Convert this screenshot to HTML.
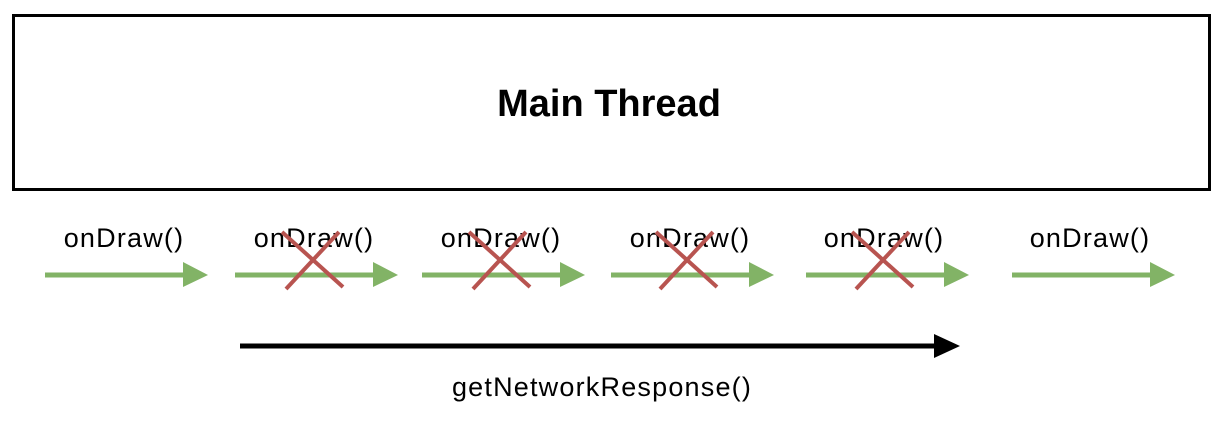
<!DOCTYPE html>
<html><head><style>body{margin:0;background:#fff}</style></head><body>
<svg width="1223" height="421" xmlns="http://www.w3.org/2000/svg" style="display:block">
<rect x="13.5" y="15.5" width="1196" height="174" fill="#fff" stroke="#000" stroke-width="3"/>
<text x="609" y="116" font-family="Liberation Sans, sans-serif" font-weight="bold" font-size="38" text-anchor="middle">Main Thread</text>
<g font-family="Liberation Sans, sans-serif" font-size="27" letter-spacing="1.2" text-anchor="middle">
<text x="124" y="247">onDraw()</text>
<text x="314" y="247">onDraw()</text>
<text x="501" y="247">onDraw()</text>
<text x="690" y="247">onDraw()</text>
<text x="884" y="247">onDraw()</text>
<text x="1090" y="247">onDraw()</text>
<text x="602" y="396">getNetworkResponse()</text>
</g>
<g stroke="#82b366" stroke-width="5" fill="#82b366">
<line x1="45" y1="275" x2="190" y2="275"/><polygon points="183,262 208,275 183,287" stroke="none"/>
<line x1="235" y1="275" x2="380" y2="275"/><polygon points="373,262 398,275 373,287" stroke="none"/>
<line x1="422" y1="275" x2="567" y2="275"/><polygon points="560,262 585,275 560,287" stroke="none"/>
<line x1="611" y1="275" x2="756" y2="275"/><polygon points="749,262 774,275 749,287" stroke="none"/>
<line x1="806" y1="275" x2="951" y2="275"/><polygon points="944,262 969,275 944,287" stroke="none"/>
<line x1="1012" y1="275" x2="1157" y2="275"/><polygon points="1150,262 1175,275 1150,287" stroke="none"/>
</g>
<g stroke="#b85450" stroke-width="4">
<line x1="282" y1="232" x2="343" y2="287"/><line x1="339" y1="232" x2="286" y2="289"/>
<line x1="469" y1="232" x2="530" y2="287"/><line x1="526" y1="232" x2="473" y2="289"/>
<line x1="656" y1="232" x2="717" y2="287"/><line x1="713" y1="232" x2="660" y2="289"/>
<line x1="852" y1="232" x2="913" y2="287"/><line x1="909" y1="232" x2="856" y2="289"/>
</g>
<line x1="240" y1="346" x2="940" y2="346" stroke="#000" stroke-width="5"/>
<polygon points="934,334 960,346 934,358" fill="#000"/>
</svg>
</body></html>
